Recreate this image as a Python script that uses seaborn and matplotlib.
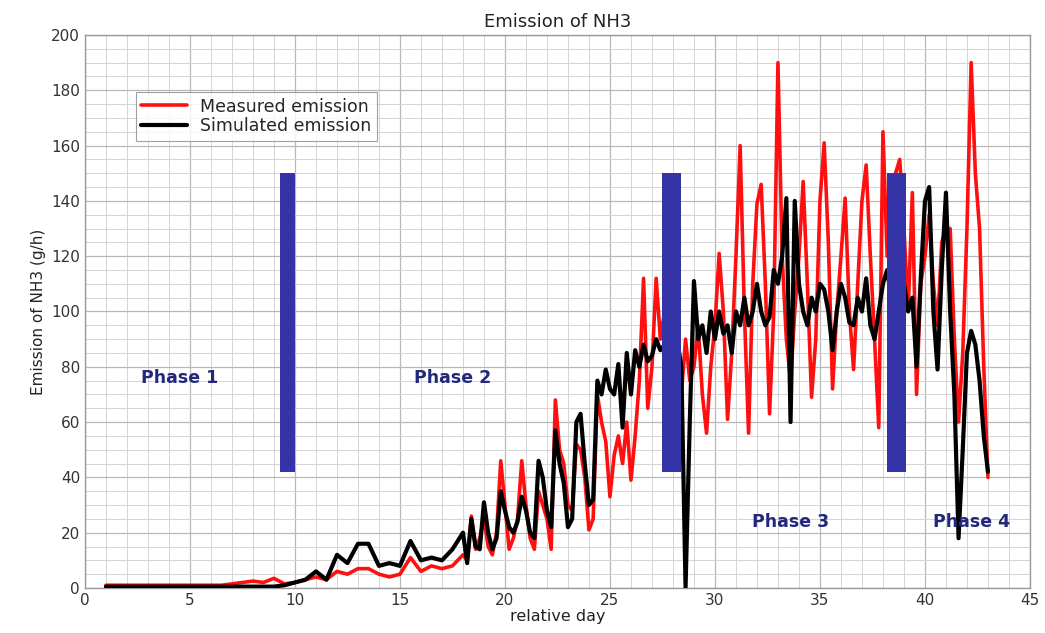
import numpy as np
import pandas as pd
import matplotlib
matplotlib.use("Agg")
import matplotlib.pyplot as plt
import seaborn as sns
from matplotlib.ticker import MultipleLocator

# ---------------- data ----------------
# coarse sampling, days 1.0 .. 17.5 (step 0.5)
days_a = np.round(np.arange(1.0, 17.51, 0.5), 2)
measured_a = [1, 1, 1, 1, 1, 1, 1, 1, 1, 1,
              1, 1, 1.5, 2, 2.5, 2, 3.5, 1.5, 2, 3,
              4, 3, 6, 5, 7, 7, 5, 4, 5, 11,
              6, 8, 7, 8]
simulated_a = [0.5, 0.5, 0.5, 0.5, 0.5, 0.5, 0.5, 0.5, 0.5, 0.5,
               0.5, 0.5, 0.5, 0.5, 0.5, 0.5, 0.5, 1, 2, 3,
               6, 3, 12, 9, 16, 16, 8, 9, 8, 17,
               10, 11, 10, 14]

# finer sampling, days 18.0 .. 43.0 (step 0.2)
days_b = np.round(np.arange(18.0, 43.01, 0.2), 2)
measured_b = [12, 10, 26, 14, 18, 25, 15, 12, 20, 46,
              30, 14, 18, 25, 46, 30, 18, 14, 35, 30,
              25, 14, 68, 50, 45, 30, 28, 52, 50, 40,
              21, 25, 70, 60, 53, 33, 48, 55, 45, 60,
              39, 55, 75, 112, 65, 80, 112, 90, 100, 95,
              85, 80, 70, 90, 75, 80, 95, 70, 56, 80,
              95, 121, 100, 61, 85, 120, 160, 100, 56, 110,
              139, 146, 110, 63, 100, 190, 120, 90, 75, 100,
              120, 147, 110, 69, 90, 140, 161, 125, 72, 100,
              120, 141, 100, 79, 110, 140, 153, 120, 90, 58,
              165, 120, 135, 150, 155, 130, 100, 143, 70, 110,
              120, 135, 110, 95, 125, 130, 130, 90, 60, 85,
              130, 190, 150, 130, 80, 40]
simulated_b = [20, 9, 25, 15, 14, 31, 20, 14, 18, 35,
               28, 22, 20, 24, 33, 28, 20, 18, 46, 40,
               28, 22, 57, 45, 38, 22, 25, 60, 63, 45,
               30, 32, 75, 70, 79, 72, 70, 81, 58, 85,
               70, 86, 80, 88, 82, 84, 90, 86, 88, 96,
               92, 90, 80, 0, 60, 111, 90, 95, 85, 100,
               90, 100, 92, 95, 85, 100, 95, 105, 95, 100,
               110, 100, 95, 98, 115, 110, 120, 141, 60, 140,
               110, 100, 95, 105, 100, 110, 108, 100, 86, 100,
               110, 105, 96, 95, 105, 100, 112, 95, 90, 100,
               110, 115, 105, 115, 118, 110, 100, 105, 80, 112,
               140, 145, 100, 79, 115, 143, 100, 70, 18, 50,
               85, 93, 88, 75, 55, 42]

phase_bar_days = [9.65, 27.95, 38.65]
phase_bar_widths = [0.7, 0.9, 0.9]
phase_bar_low = 42
phase_bar_high = 150

phase_labels = ["Phase 1", "Phase 2", "Phase 3", "Phase 4"]
phase_label_x = [4.5, 17.5, 33.6, 42.2]
phase_label_y = [76, 76, 24, 24]

x_ticks = [0, 5, 10, 15, 20, 25, 30, 35, 40, 45]
y_ticks = [0, 20, 40, 60, 80, 100, 120, 140, 160, 180, 200]

days = np.concatenate([days_a, days_b])
measured = np.concatenate([measured_a, measured_b])
simulated = np.concatenate([simulated_a, simulated_b])
df = pd.DataFrame({"day": days, "Measured emission": measured,
                   "Simulated emission": simulated})

# ---------------- style ----------------
sns.set_theme(style="white")
plt.rcParams["font.family"] = ["DejaVu Sans"]

fig = plt.figure(figsize=(10.45, 6.33), dpi=100)
ax = fig.add_axes([0.0813, 0.0711, 0.9043, 0.8736])

sns.lineplot(data=df, x="day", y="Measured emission", color="#ff1010",
             linewidth=2.6, ax=ax, label="Measured emission", zorder=3,
             estimator=None)
sns.lineplot(data=df, x="day", y="Simulated emission", color="#000000",
             linewidth=3.0, ax=ax, label="Simulated emission", zorder=4,
             estimator=None)

ax.bar(phase_bar_days, [phase_bar_high - phase_bar_low] * len(phase_bar_days),
       bottom=phase_bar_low, width=phase_bar_widths, color="#3434a8",
       zorder=5, linewidth=0)

for lab, lx, ly in zip(phase_labels, phase_label_x, phase_label_y):
    ax.text(lx, ly, lab, ha="center", va="center", fontsize=12.5,
            fontweight="bold", color="#22287a", zorder=6)

ax.set_xlim(0, 45)
ax.set_ylim(0, 200)
ax.set_xticks(x_ticks)
ax.set_yticks(y_ticks)
ax.xaxis.set_minor_locator(MultipleLocator(1))
ax.yaxis.set_minor_locator(MultipleLocator(5))
ax.grid(which="major", color="#b8b8b8", linewidth=0.9, zorder=0)
ax.grid(which="minor", color="#d4d4d4", linewidth=0.7, zorder=0)
ax.set_axisbelow(True)
ax.tick_params(axis="both", which="major", direction="in", length=4,
               labelsize=11, colors="#444444", labelcolor="#333333")
ax.tick_params(axis="both", which="minor", length=0)
for sp in ax.spines.values():
    sp.set_color("#999999")
    sp.set_linewidth(1.0)

ax.set_xlabel("relative day", fontsize=11.5, color="#222222", labelpad=1)
ax.set_ylabel("Emission of NH3 (g/h)", fontsize=11, color="#222222", labelpad=4)
ax.set_title("Emission of NH3", fontsize=13, color="#222222", pad=6)

leg = ax.legend(loc="upper left", bbox_to_anchor=(0.045, 0.912),
                fontsize=12.5, frameon=True, fancybox=False, handlelength=2.6,
                borderpad=0.3, labelspacing=0.1)
leg.get_frame().set_edgecolor("#888888")
leg.get_frame().set_linewidth(0.8)

fig.savefig("out.png", dpi=100)
